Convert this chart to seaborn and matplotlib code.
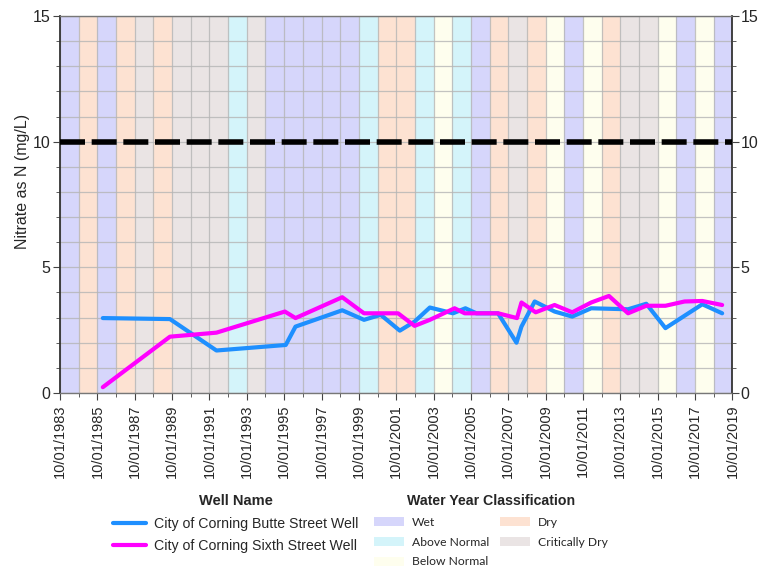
import matplotlib
matplotlib.use("Agg")
import matplotlib.pyplot as plt
import matplotlib.dates as mdates
from matplotlib.patches import Patch
from matplotlib.lines import Line2D
from matplotlib.ticker import MultipleLocator
import pandas as pd
import seaborn as sns

# Nitrate sample dates and concentrations (mg/L as N)
butte_dates = ["1986-01-15", "1989-08-20", "1992-02-15", "1995-11-01", "1996-05-10",
               "1998-11-10", "2000-01-10", "2000-12-01", "2001-12-10", "2002-09-25",
               "2003-07-20", "2004-10-15", "2005-06-15", "2006-01-15", "2007-03-15",
               "2008-03-10", "2008-06-15", "2009-03-01", "2010-03-25", "2011-03-05",
               "2012-03-10", "2014-03-01", "2015-02-20", "2016-03-01", "2018-02-20",
               "2019-03-15"]
butte_values = [2.98, 2.94, 1.69, 1.91, 2.64,
                3.29, 2.91, 3.11, 2.48, 2.84,
                3.40, 3.17, 3.37, 3.17, 3.17,
                2.00, 2.64, 3.64, 3.24, 3.04,
                3.37, 3.33, 3.55, 2.58, 3.53,
                3.17]

sixth_dates = ["1986-01-15", "1989-08-20", "1992-02-15", "1995-10-15", "1996-05-10",
               "1998-11-10", "2000-01-10", "2001-11-05", "2002-09-25", "2003-07-20",
               "2004-11-15", "2005-06-01", "2007-03-15", "2008-03-20", "2008-06-15",
               "2009-03-20", "2010-03-25", "2011-03-05", "2012-03-10", "2013-02-20",
               "2014-03-01", "2015-02-20", "2016-03-01", "2017-03-10", "2018-02-20",
               "2019-03-15"]
sixth_values = [0.23, 2.24, 2.40, 3.24, 2.98,
                3.81, 3.17, 3.17, 2.67, 2.91,
                3.37, 3.17, 3.17, 2.98, 3.60,
                3.21, 3.50, 3.21, 3.60, 3.86,
                3.17, 3.47, 3.47, 3.64, 3.66,
                3.50]

well_names = ["City of Corning Butte Street Well", "City of Corning Sixth Street Well"]
well_colors = ["#1E8FFF", "#FF00FF"]

# Sacramento Valley water year types, WY1984 - WY2019
water_years = list(range(1984, 2020))
year_types = ["W", "D", "W", "D", "C", "D", "C", "C", "C", "AN",
              "C", "W", "W", "W", "W", "W", "AN", "D", "D", "AN",
              "BN", "AN", "W", "D", "C", "D", "BN", "W", "BN", "D",
              "C", "C", "BN", "W", "BN", "W"]
type_labels = {"W": "Wet", "AN": "Above Normal", "BN": "Below Normal",
               "D": "Dry", "C": "Critically Dry"}
type_colors = {"W": "#D6D6FB", "AN": "#D4F4FA", "BN": "#FEFEEE",
               "D": "#FDE2D2", "C": "#EAE4E4"}

mcl = 10

df = pd.concat([
    pd.DataFrame({"date": pd.to_datetime(butte_dates), "nitrate": butte_values,
                  "well": well_names[0]}),
    pd.DataFrame({"date": pd.to_datetime(sixth_dates), "nitrate": sixth_values,
                  "well": well_names[1]}),
])

sns.set_style("white")
plt.rcParams["font.family"] = ["Liberation Sans", "DejaVu Sans"]

fig = plt.figure(figsize=(7.58, 5.72), dpi=100)
ax = fig.add_axes([0.0792, 0.313, 0.887, 0.659])

# water year shading
for wy, t in zip(water_years, year_types):
    ax.axvspan(pd.Timestamp(f"{wy - 1}-10-01"), pd.Timestamp(f"{wy}-10-01"),
               color=type_colors[t], lw=0, zorder=0)

sns.lineplot(data=df, x="date", y="nitrate", hue="well", palette=well_colors,
             hue_order=well_names, lw=3, ax=ax, legend=False, zorder=3,
             estimator=None, sort=True)

ax.axhline(mcl, color="black", lw=4, ls=(0, (4.5, 1.2)), zorder=4)

x0, x1 = pd.Timestamp("1983-10-01"), pd.Timestamp("2019-10-01")
ax.set_xlim(x0, x1)
ax.set_ylim(0, 15)

major = [pd.Timestamp(f"{y}-10-01") for y in range(1983, 2020, 2)]
minor = [pd.Timestamp(f"{y}-10-01") for y in range(1983, 2020)]
ax.set_xticks(major)
ax.set_xticks(minor, minor=True)
ax.xaxis.set_major_formatter(mdates.DateFormatter("%m/%d/%Y"))
ax.tick_params(axis="x", which="major", labelrotation=90, labelsize=10.5,
               length=5, color="#444444", bottom=True, pad=3)
ax.tick_params(axis="x", which="minor", length=3, color="#444444", bottom=True)

ax.set_yticks([0, 5, 10, 15])
ax.yaxis.set_minor_locator(MultipleLocator(1))
ax.tick_params(axis="y", which="major", labelsize=11.5, length=5, left=True,
               color="#444444", pad=2)
ax.tick_params(axis="y", which="minor", length=3, left=True, color="#444444")

ax.grid(True, which="both", color="#B5B5B5", lw=0.9, alpha=0.8, zorder=1)
for gl in ax.get_xgridlines() + ax.get_ygridlines():
    gl.set_zorder(1)

ax.set_xlabel("")
ax.set_ylabel("Nitrate as N (mg/L)", fontsize=11.5)
ax.yaxis.set_label_coords(-0.045, 0.56)

for side in ["left", "right"]:
    ax.spines[side].set_color("#333333")
    ax.spines[side].set_linewidth(1.3)
for side in ["top", "bottom"]:
    ax.spines[side].set_color("#777777")
    ax.spines[side].set_linewidth(1.0)

ax2 = ax.twinx()
ax2.set_ylim(0, 15)
ax2.set_yticks([0, 5, 10, 15])
ax2.yaxis.set_minor_locator(MultipleLocator(1))
ax2.tick_params(axis="y", which="major", labelsize=11.5, length=5, right=True,
                color="#444444", pad=1)
ax2.tick_params(axis="y", which="minor", length=3, right=True, color="#444444")
for s in ax2.spines.values():
    s.set_visible(False)

# legends
well_handles = [Line2D([], [], color=c, lw=3) for c in well_colors]
leg1 = fig.legend(well_handles, well_names, title="Well Name",
                  loc="upper left", bbox_to_anchor=(0.1399, 0.1485),
                  frameon=False, borderpad=0, handlelength=2.3,
                  handletextpad=0.6, labelspacing=0.6,
                  prop={"size": 10.2},
                  title_fontproperties={"weight": "bold", "size": 10.5})

order = ["W", "AN", "BN", "D", "C"]
patch_handles = [Patch(facecolor=type_colors[k], edgecolor="none") for k in order]
leg2 = fig.legend(patch_handles, [type_labels[k] for k in order],
                  title="Water Year Classification", ncol=2,
                  loc="upper left", bbox_to_anchor=(0.4855, 0.1465),
                  frameon=False, borderpad=0, handlelength=2.5, handleheight=0.75,
                  handletextpad=0.66, columnspacing=0.85, labelspacing=0.72,
                  prop={"family": "Lato", "size": 8.7},
                  title_fontproperties={"weight": "bold", "size": 10.2})

fig.savefig("out.png", dpi=100)
